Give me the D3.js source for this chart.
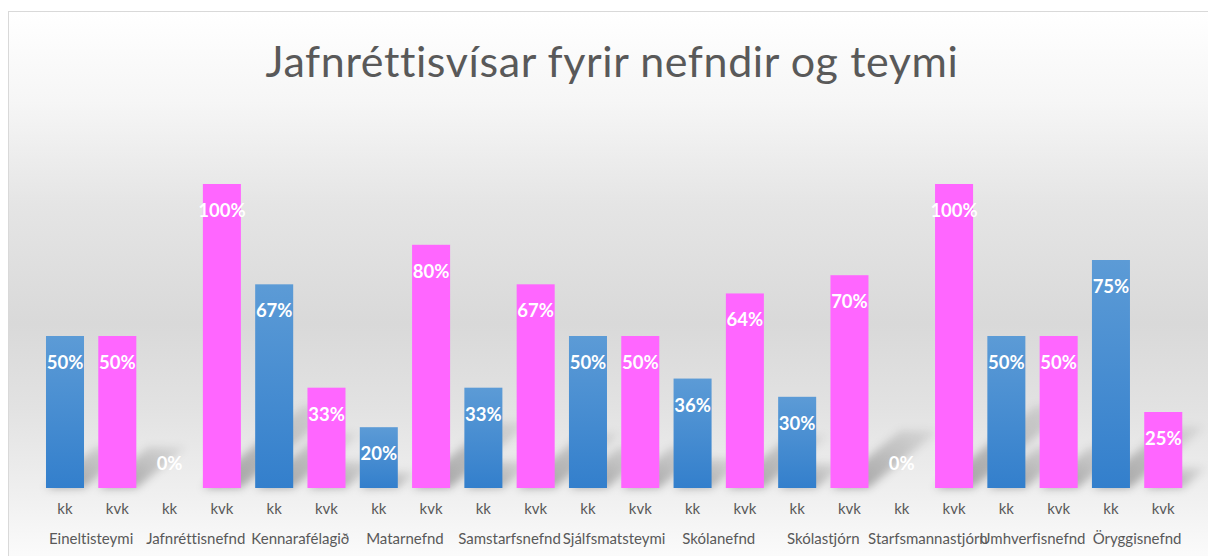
<html>
<head>
<meta charset="utf-8">
</head>
<body style="margin: 0 0 0 0; background: #fff;">
<svg id="chart"></svg>
<script src="https://cdnjs.cloudflare.com/ajax/libs/d3/7.8.5/d3.min.js"></script>
<script type="text/javascript">

// data
var groups = ["Eineltisteymi", "Jafnréttisnefnd", "Kennarafélagið", "Matarnefnd", "Samstarfsnefnd",
              "Sjálfsmatsteymi", "Skólanefnd", "Skólastjórn", "Starfsmannastjórn", "Umhverfisnefnd", "Öryggisnefnd"]
var series = ["kk", "kvk"]
var kk  = [0.50, 0.00, 0.67, 0.20, 0.33, 0.50, 0.36, 0.30, 0.00, 0.50, 0.75]
var kvk = [0.50, 1.00, 0.33, 0.80, 0.67, 0.50, 0.64, 0.70, 1.00, 0.50, 0.25]
var title = "Jafnréttisvísar fyrir nefndir og teymi"

var W = 1208, H = 556
var colors = { kk: "url(#blueGrad)", kvk: "#ff66ff" }
var font = "Lato, 'Open Sans', sans-serif"

var svg = d3.select("#chart")
  .attr("width", W)
  .attr("height", H)
  .style("display", "block")
  .style("font-variant-ligatures", "none")

var defs = svg.append("defs")

// chart background gradient
var bg = defs.append("linearGradient")
  .attr("id", "bgGrad")
  .attr("x1", 0).attr("y1", 0).attr("x2", 0).attr("y2", 1)
;[[0, "#ffffff"], [0.15, "#f6f6f6"], [0.32, "#e5e5e5"], [0.52, "#d9d9d9"],
  [0.66, "#e2e2e2"], [0.8, "#efefef"], [0.9, "#fafafa"], [1, "#ffffff"]].forEach(function(s) {
  bg.append("stop").attr("offset", s[0]).attr("stop-color", s[1])
})

var bl = defs.append("linearGradient")
  .attr("id", "blueGrad")
  .attr("x1", 0).attr("y1", 0).attr("x2", 0).attr("y2", 1)
bl.append("stop").attr("offset", 0).attr("stop-color", "#5c9bd6")
bl.append("stop").attr("offset", 1).attr("stop-color", "#337fcc")

var sh = defs.append("linearGradient")
  .attr("id", "shadowGrad")
  .attr("x1", 0).attr("y1", 1).attr("x2", 1).attr("y2", 0)
sh.append("stop").attr("offset", 0).attr("stop-color", "#000").attr("stop-opacity", 0.34)
sh.append("stop").attr("offset", 1).attr("stop-color", "#000").attr("stop-opacity", 0.06)

defs.append("filter")
  .attr("id", "blur")
  .attr("x", "-50%").attr("y", "-50%").attr("width", "200%").attr("height", "200%")
  .append("feGaussianBlur").attr("stdDeviation", 4)

svg.append("rect")
  .attr("x", 8.5).attr("y", 11.5)
  .attr("width", 1230).attr("height", 600)
  .attr("fill", "url(#bgGrad)")
  .attr("stroke", "#d9d9d9")

svg.append("text")
  .attr("x", 612)
  .attr("y", 77)
  .attr("text-anchor", "middle")
  .attr("font-family", font)
  .attr("font-size", 43)
  .attr("letter-spacing", 0.6)
  .attr("fill", "#595959")
  .text(title)

// scales
var x0 = d3.scaleBand()
  .domain(groups)
  .range([38.85, 1189.4])
  .padding(0)

var x1 = d3.scaleBand()
  .domain(series)
  .range([0, x0.bandwidth()])
  .paddingInner(0.273)
  .paddingOuter(0.1365)

var y = d3.scaleLinear()
  .domain([0, 1])
  .range([488, 184])

var rows = []
groups.forEach(function(g, i) {
  rows.push({ group: g, key: "kk", value: kk[i] })
  rows.push({ group: g, key: "kvk", value: kvk[i] })
})

var bx = function(d) { return x0(d.group) + x1(d.key); }

// perspective shadows cast up and to the right
var shadowAx = 0.33, shadowAy = 0.27
svg.append("g")
  .attr("filter", "url(#blur)")
  .selectAll("polygon")
  .data(rows.filter(function(d) { return d.value > 0; }))
  .enter().append("polygon")
  .attr("fill", "url(#shadowGrad)")
  .attr("points", function(d) {
    var l = bx(d), r = l + x1.bandwidth(), b = y(0), h = y(0) - y(d.value)
    var dx = shadowAx * h, dy = shadowAy * h
    return [[l, b], [r, b], [r + dx, b - dy], [l + dx, b - dy]].map(function(p) { return p.join(","); }).join(" ")
  })

// bars
svg.append("g")
  .selectAll("rect")
  .data(rows)
  .enter().append("rect")
  .attr("x", bx)
  .attr("y", function(d) { return y(d.value); })
  .attr("width", x1.bandwidth())
  .attr("height", function(d) { return y(0) - y(d.value); })
  .attr("fill", function(d) { return colors[d.key]; })

// value labels
svg.append("g")
  .selectAll("text")
  .data(rows)
  .enter().append("text")
  .attr("x", function(d) { return bx(d) + x1.bandwidth() / 2; })
  .attr("y", function(d) { return d.value > 0 ? y(d.value) + 33 : y(0) - 18; })
  .attr("text-anchor", "middle")
  .attr("font-family", font)
  .attr("font-weight", "bold")
  .attr("font-size", 18.5)
  .attr("fill", "#ffffff")
  .text(function(d) { return Math.round(d.value * 100) + "%"; })

// axis labels: series row and group row
svg.append("g")
  .selectAll("text")
  .data(rows)
  .enter().append("text")
  .attr("x", function(d) { return bx(d) + x1.bandwidth() / 2; })
  .attr("y", 514)
  .attr("text-anchor", "middle")
  .attr("font-family", font)
  .attr("font-size", 15)
  .attr("fill", "#595959")
  .text(function(d) { return d.key; })

svg.append("g")
  .selectAll("text")
  .data(groups)
  .enter().append("text")
  .attr("x", function(g) { return x0(g) + x0.bandwidth() / 2; })
  .attr("y", 544)
  .attr("text-anchor", "middle")
  .attr("font-family", font)
  .attr("font-size", 15)
  .attr("fill", "#595959")
  .text(function(g) { return g; })

</script>
</body>
</html>
